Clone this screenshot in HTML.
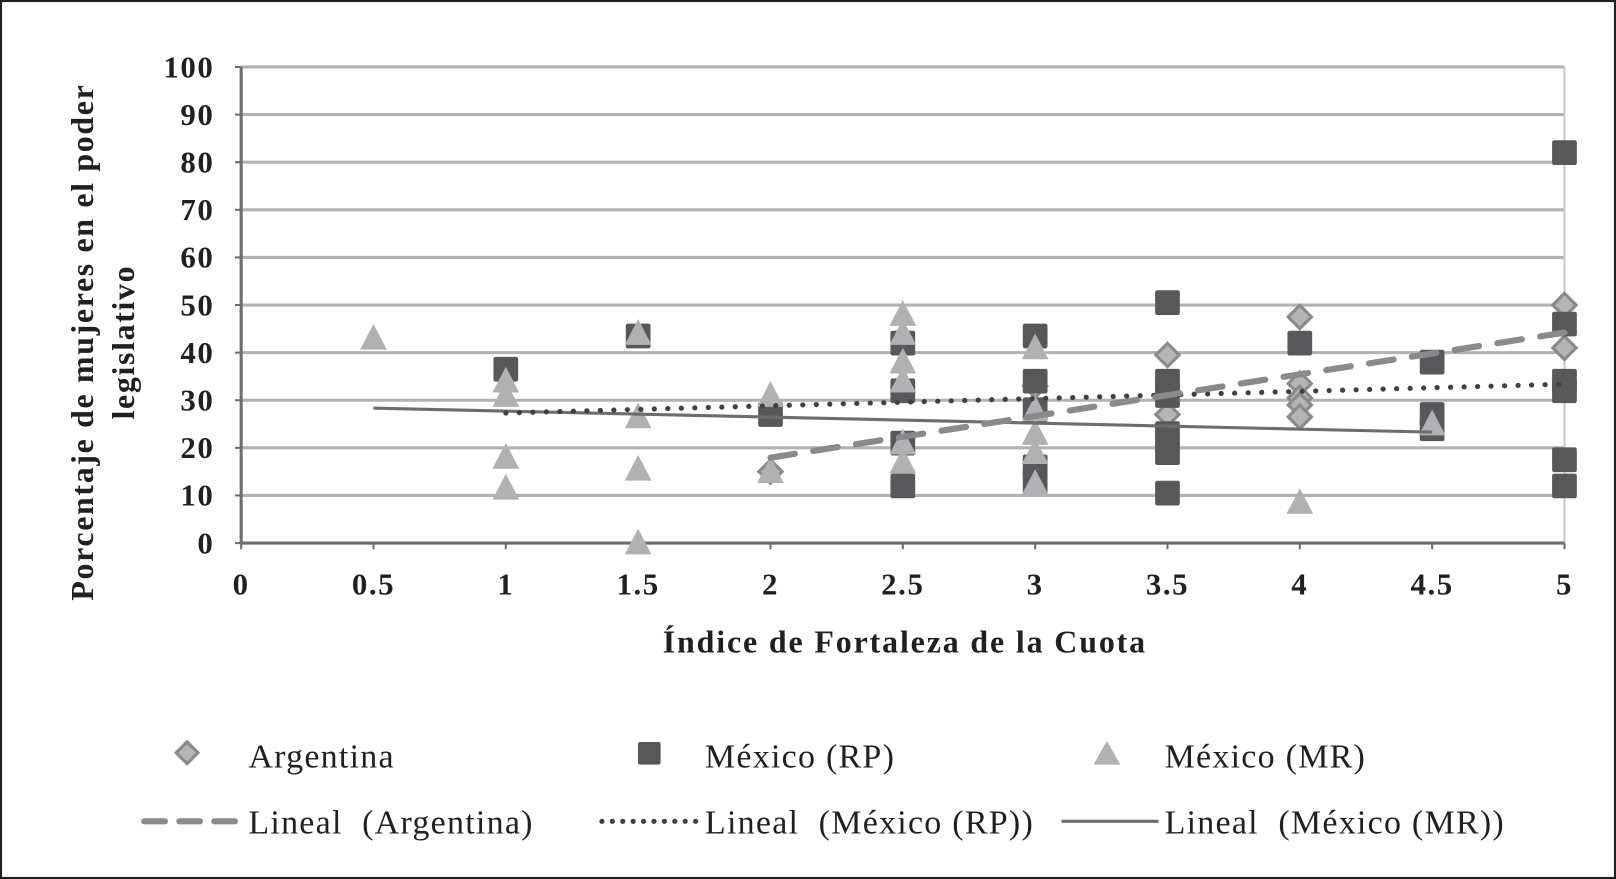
<!DOCTYPE html>
<html><head><meta charset="utf-8"><style>
html,body{margin:0;padding:0;background:#fff}
svg{display:block}
text{font-family:"Liberation Serif",serif;fill:#231f20}
</style></head><body>
<svg id="chart" width="1616" height="879" viewBox="0 0 1568 853" preserveAspectRatio="none">
<rect x="1" y="1" width="1566" height="851" fill="#fff" stroke="#231f20" stroke-width="2"/>
<g id="grid"></g>
<g id="yticks"></g>
<g id="xticks"></g>
<g id="marks"></g>
<g id="trends"></g>
<text x="878" y="633" text-anchor="middle" font-size="31" font-weight="bold" letter-spacing="1.8">Índice de Fortaleza de la Cuota</text>
<g transform="translate(90,332) rotate(-90)">
<text x="0" y="0" text-anchor="middle" font-size="31" font-weight="bold" letter-spacing="1.6">Porcentaje de mujeres en el poder</text>
<text x="0" y="40" text-anchor="middle" font-size="31" font-weight="bold" letter-spacing="1.6">legislativo</text>
</g>
<g>
<g><rect x="174" y="723" width="15" height="15" transform="rotate(45 181.5 730.5)" fill="#b5b5b7" stroke="#8a8a8c" stroke-width="3"/><text x="241" y="745" font-size="33" letter-spacing="1.2">Argentina</text></g>
<g><rect x="619" y="720" width="22" height="22" rx="2" fill="#58585a"/><text x="684" y="745" font-size="33" letter-spacing="1.2">México (RP)</text></g>
<g><polygon points="1074,719 1087,742 1061,742" fill="#b1b1b3"/><text x="1130" y="745" font-size="33" letter-spacing="1.2">México (MR)</text></g>
<g><line x1="140" y1="797" x2="236" y2="797" stroke="#8a8a8c" stroke-width="6" stroke-dasharray="20 14" stroke-linecap="round"/><text x="241" y="809" font-size="33" letter-spacing="1.2" xml:space="preserve">Lineal  (Argentina)</text></g>
<g><line x1="584" y1="797" x2="678" y2="797" stroke="#404042" stroke-width="5" stroke-dasharray="0.1 10" stroke-linecap="round"/><text x="684" y="809" font-size="33" letter-spacing="1.2" xml:space="preserve">Lineal  (México (RP))</text></g>
<g><line x1="1030" y1="797" x2="1124" y2="797" stroke="#6d6d6f" stroke-width="3"/><text x="1130" y="809" font-size="33" letter-spacing="1.2" xml:space="preserve">Lineal  (México (MR))</text></g>
</g>
</svg>
<script>
const xTicks=["0","0.5","1","1.5","2","2.5","3","3.5","4","4.5","5"];
const yTicks=[0,10,20,30,40,50,60,70,80,90,100];
const argX=[2,3,3.5,3.5,3.5,4,4,4,4,4,5,5];
const argY=[15,33,39.5,31,27,47.5,33.5,30.5,29,26.5,50,41];
const rpX=[1,1.5,2,2.5,2.5,2.5,2.5,3,3,3,3,3,3.5,3.5,3.5,3.5,3.5,3.5,4,4.5,4.5,4.5,5,5,5,5,5,5];
const rpY=[36.5,43.5,27,42,32,21,12,43.5,34,28,16,13,50.5,34,31,23,19,10.5,42,38,27,24,82,46,34,32,17.5,12];
const mrX=[0.5,1,1,1,1,1.5,1.5,1.5,1.5,2,2,2.5,2.5,2.5,2.5,2.5,2.5,3,3,3,3,3,4,4.5];
const mrY=[43,34,31,18,11.5,44,26.5,15.5,0,31,15,48,44,38,34,21,17,41,28,23,19,12.5,8.5,25];

const NS="http://www.w3.org/2000/svg";
const X0=234,X1=1518,Y0=527,Y1=65;
const sx=v=>X0+(v/5)*(X1-X0);
const sy=v=>Y0-(v/100)*(Y0-Y1);
function mk(tag,attrs,parent){const e=document.createElementNS(NS,tag);for(const k in attrs)e.setAttribute(k,attrs[k]);parent.appendChild(e);return e;}
const grid=document.getElementById('grid'),yt=document.getElementById('yticks'),xt=document.getElementById('xticks'),tr=document.getElementById('trends'),mg=document.getElementById('marks');
yTicks.forEach(v=>{
  if(v>0){const l=mk('line',{x1:X0,x2:X1,y1:sy(v),y2:sy(v),stroke:'#b2b2b5','stroke-width':3},grid);
  
  }
  const t=mk('text',{x:208,y:sy(v)+10,'text-anchor':'end','font-size':30,'font-weight':'bold','letter-spacing':1.5},yt);t.textContent=v;
  
  
  mk('line',{x1:X0-6,x2:X0,y1:sy(v),y2:sy(v),stroke:'#6d6d6f','stroke-width':2},grid);
});
const vr=mk('line',{x1:X1,x2:X1,y1:Y1,y2:Y0,stroke:'#c8c8ca','stroke-width':2},grid);


const ya=mk('line',{x1:X0,x2:X0,y1:Y1,y2:Y0,stroke:'#6d6d6f','stroke-width':3},grid);


const xa=mk('line',{x1:X0,x2:X1,y1:Y0,y2:Y0,stroke:'#6d6d6f','stroke-width':3},grid);


xTicks.forEach(s=>{const v=parseFloat(s);
  const t=mk('text',{x:sx(v),y:577,'text-anchor':'middle','font-size':30,'font-weight':'bold','letter-spacing':1.5},xt);t.textContent=s;
  
  
  mk('line',{x1:sx(v),x2:sx(v),y1:Y0,y2:Y0+6,stroke:'#6d6d6f','stroke-width':2},grid);
});
function fit(xs,ys){const n=xs.length;let mx=0,my=0;xs.forEach((x,i)=>{mx+=x;my+=ys[i];});mx/=n;my/=n;let a=0,b=0;xs.forEach((x,i)=>{a+=(x-mx)*(ys[i]-my);b+=(x-mx)*(x-mx);});const m=a/b;return [m,my-m*mx];}
function trend(xs,ys,style,name){const [m,c]=fit(xs,ys);const lo=Math.min(...xs),hi=Math.max(...xs);
  const l=mk('line',Object.assign({x1:sx(lo),y1:sy(m*lo+c),x2:sx(hi),y2:sy(m*hi+c),fill:'none'},style),tr);
  
  }
argX.forEach((x,i)=>{const cx=sx(x),cy=sy(argY[i]);
  const r=mk('rect',{x:cx-8,y:cy-8,width:16,height:16,transform:`rotate(45 ${cx} ${cy})`,fill:'#b5b5b7',stroke:'#8a8a8c','stroke-width':3},mg);
  
  });
rpX.forEach((x,i)=>{const cx=sx(x),cy=sy(rpY[i]);
  const r=mk('rect',{x:cx-12,y:cy-12,width:24,height:24,rx:2,fill:'#58585a'},mg);
  
  });
mrX.forEach((x,i)=>{const cx=sx(x),cy=sy(mrY[i]);
  const p=mk('polygon',{points:`${cx},${cy-14} ${cx+13},${cy+11} ${cx-13},${cy+11}`,fill:'#b1b1b3'},mg);
  
  });
trend(mrX,mrY,{stroke:'#6d6d6f','stroke-width':3},'trend-mexico-mr');
trend(rpX,rpY,{stroke:'#404042','stroke-width':5,'stroke-dasharray':'0.1 13','stroke-linecap':'round'},'trend-mexico-rp');
trend(argX,argY,{stroke:'#8a8a8c','stroke-width':6,'stroke-dasharray':'24 18','stroke-linecap':'round'},'trend-argentina');
</script>
</body></html>
